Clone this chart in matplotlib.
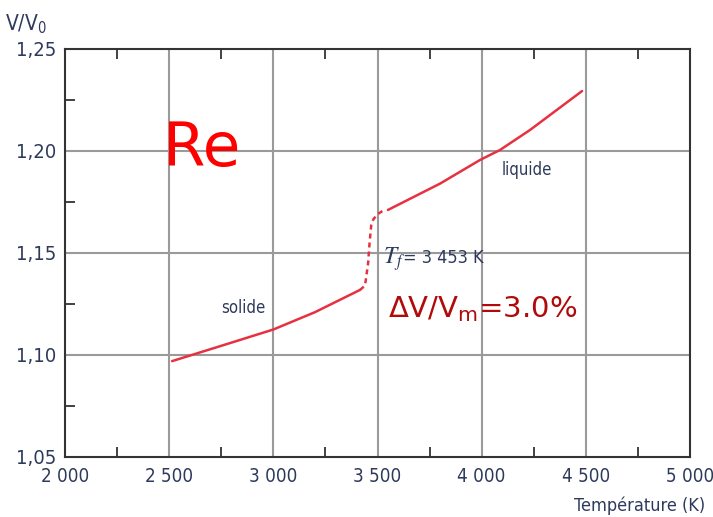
import matplotlib
matplotlib.use("Agg")
import matplotlib.pyplot as plt
from matplotlib.font_manager import FontProperties
import numpy as np

# ---- data ----
solid_T = [2514, 2750, 3000, 3200, 3416]
solid_V = [1.097, 1.1045, 1.1125, 1.1210, 1.1319]
trans_T = [3416, 3440, 3455, 3462, 3470, 3480, 3500, 3530]
trans_V = [1.1319, 1.1340, 1.1450, 1.1550, 1.1637, 1.1665, 1.1690, 1.1710]
liquid_T = [3550, 3800, 3992, 4088, 4232, 4482]
liquid_V = [1.1711, 1.1840, 1.1956, 1.2005, 1.2103, 1.2294]

x_ticks = [2000, 2500, 3000, 3500, 4000, 4500, 5000]
x_labels = ["2 000", "2 500", "3 000", "3 500", "4 000", "4 500", "5 000"]
y_ticks = [1.05, 1.10, 1.15, 1.20, 1.25]
y_labels = ["1,05", "1,10", "1,15", "1,20", "1,25"]

navy = "#2e3a5c"
red = "#e63240"

def cond(size):
    return FontProperties(family="DejaVu Sans", stretch="condensed", size=size)

fig = plt.figure(figsize=(7.13, 5.17), dpi=100)
ax = fig.add_axes([65/713, 1-457/517, (690-65)/713, (457-49)/517])

ax.set_xlim(2000, 5000)
ax.set_ylim(1.05, 1.25)

for t in x_ticks[1:-1]:
    ax.axvline(t, color="#9a9a9a", lw=1.5, zorder=1)
for v in y_ticks[1:-1]:
    ax.axhline(v, color="#9a9a9a", lw=1.5, zorder=1)

ax.plot(solid_T, solid_V, color=red, lw=1.8, zorder=3, solid_capstyle="round")
ax.plot(trans_T, trans_V, color=red, lw=1.8, ls=(0, (2.0, 1.6)), zorder=3)
ax.plot(liquid_T, liquid_V, color=red, lw=1.8, zorder=3, solid_capstyle="round")

ax.set_xticks(x_ticks)
ax.set_xticklabels(x_labels, fontproperties=cond(13.5), color=navy)
ax.set_yticks(y_ticks)
ax.set_yticklabels(y_labels, fontproperties=cond(14.5), color=navy)
ax.tick_params(axis="x", which="major", length=0, pad=7)
ax.tick_params(axis="y", which="major", length=0, pad=6)
ax.set_xticks(np.arange(2250, 5000, 500), minor=True)
ax.set_yticks(np.arange(1.075, 1.25, 0.05), minor=True)
ax.tick_params(axis="both", which="minor", direction="in", length=7, width=1.3,
               color="#333333", top=True, right=False)

for s in ax.spines.values():
    s.set_color("#333333")
    s.set_linewidth(1.5)

fig.text(5/713, 1-30/517, r"V/V$_\mathregular{0}$", fontproperties=cond(15), color=navy, ha="left", va="baseline")
fig.text(705/713, 1-511/517, "Température (K)", fontproperties=cond(13), color=navy, ha="right", va="baseline")

ax.text(2855, 1.123, "solide", fontproperties=cond(12), color=navy, ha="center", va="center")
ax.text(4218, 1.1907, "liquide", fontproperties=cond(12), color=navy, ha="center", va="center")
ax.text(2470, 1.2005, "Re", fontsize=44, color="#ff0000", ha="left", va="center",
        fontfamily="DejaVu Sans")
ax.text(3527, 1.1470, r"$T_f$", fontsize=17, color=navy, ha="left", va="center",
        math_fontfamily="stix")
ax.text(3623, 1.1476, "= 3 453 K", fontproperties=cond(13), color=navy, ha="left", va="center")
ax.text(3551, 1.1225, r"$\Delta$V/V$_\mathregular{m}$=3.0%", fontsize=21, color="#b00a0a",
        ha="left", va="center", fontfamily="DejaVu Sans")

fig.savefig("out.png", dpi=100)
